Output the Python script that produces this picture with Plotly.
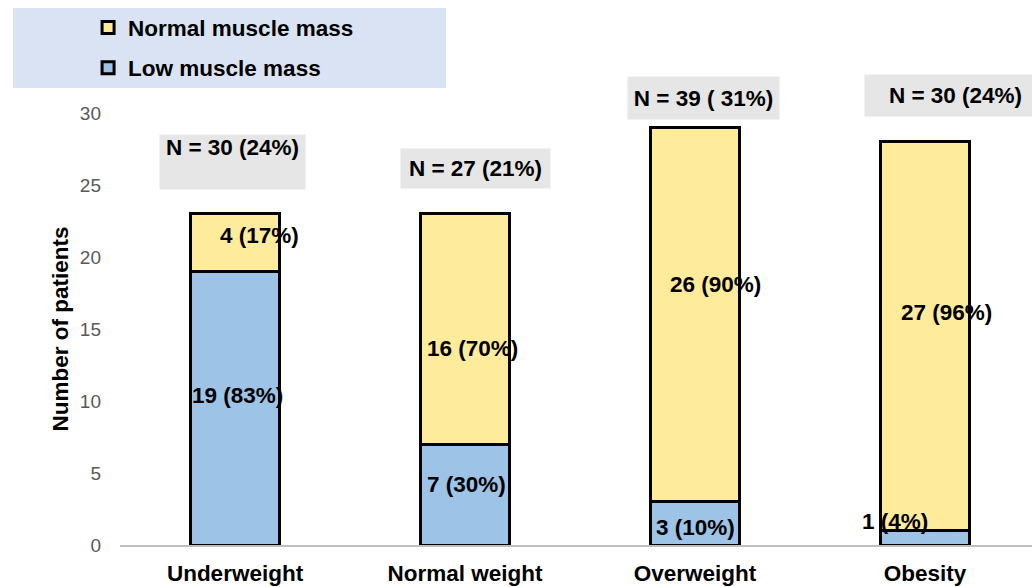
import plotly.graph_objects as go

# BMI categories and patient counts by muscle-mass status
categories = ["Underweight", "Normal weight", "Overweight", "Obesity"]
low_muscle = [19, 7, 3, 1]
normal_muscle = [4, 16, 26, 27]
group_n = [30, 27, 39, 30]
group_labels = ["N = 30 (24%)", "N = 27 (21%)", "N = 39 ( 31%)", "N = 30 (24%)"]

# Layout of text labels (pixel offsets from category centre, y in axis units)
low_label_dx = [2, 1, 0, -30]
low_label_y = [10.35, 4.17, 1.25, 1.6]
normal_label_dx = [24, 7, 20, 21]
normal_label_y = [21.46, 13.68, 18.06, 16.18]
n_box_dx = [-3, 10, 8, 30]
n_box_y = [26.6, 26.15, 31.04, 31.2]
n_box_w = [145, 149, 151, 181]
n_box_h = [54, 39, 42, 41]
n_box_valign = ["top", "middle", "middle", "middle"]

Y_MAX = 30
FONT = "Liberation Sans, Arial, sans-serif"
BOLD = dict(family=FONT, size=22.5, color="black", weight="bold")
BLUE = "#9DC3E6"
YELLOW = "#FFEB9C"


def pct_text(part, whole):
    return f"{part} ({round(100 * part / whole)}%)"


totals = [a + b for a, b in zip(low_muscle, normal_muscle)]

fig = go.Figure()
fig.add_trace(go.Bar(
    x=categories, y=low_muscle, name="Low muscle mass",
    marker=dict(color=BLUE, line=dict(color="black", width=3)),
    width=0.385, legendrank=2, legendgroup="low",
))
fig.add_trace(go.Bar(
    x=categories, y=normal_muscle, name="Normal muscle mass",
    marker=dict(color=YELLOW, line=dict(color="black", width=3)),
    width=0.385, legendrank=1, legendgroup="normal",
))

annotations = []
for i, cat in enumerate(categories):
    annotations.append(dict(
        x=cat, y=low_label_y[i], xshift=low_label_dx[i],
        text=pct_text(low_muscle[i], totals[i]), showarrow=False, font=BOLD,
    ))
    annotations.append(dict(
        x=cat, y=normal_label_y[i], xshift=normal_label_dx[i],
        text=pct_text(normal_muscle[i], totals[i]), showarrow=False, font=BOLD,
    ))
    # group size boxes may sit above the top of the axis, so place them in paper units
    annotations.append(dict(
        x=cat, xref="x", y=n_box_y[i] / Y_MAX, yref="paper", yanchor="middle",
        xanchor="center", xshift=n_box_dx[i],
        text=group_labels[i], showarrow=False,
        width=n_box_w[i], height=n_box_h[i], valign=n_box_valign[i],
        bgcolor="#E6E6E6", borderpad=0, font=BOLD,
    ))

fig.update_layout(
    width=1032, height=587,
    margin=dict(l=120, r=0, t=113, b=42),
    paper_bgcolor="white", plot_bgcolor="white",
    barmode="stack",
    showlegend=True,
    legend=dict(
        x=-0.035, y=1.247, xanchor="left", yanchor="top",
        bgcolor="rgba(0,0,0,0)", traceorder="grouped", tracegroupgap=8,
        font=BOLD,
    ),
    annotations=annotations,
    shapes=[dict(
        type="rect", xref="paper", yref="paper",
        x0=-0.1173, x1=0.3575, y0=1.058, y1=1.243,
        fillcolor="#DAE3F3", line=dict(width=0), layer="below",
    )],
    xaxis=dict(
        range=[-0.5, 3.465], showgrid=False,
        showline=True, linecolor="#BFBFBF", linewidth=1.5,
        ticks="", ticklabelstandoff=7, tickfont=BOLD,
    ),
    yaxis=dict(
        range=[0, Y_MAX], dtick=5, showgrid=False, showline=False,
        zeroline=False, ticks="", ticklabelstandoff=18,
        tickfont=dict(family=FONT, size=19, color="#595959"),
        title=dict(text="Number of patients", standoff=4, font=BOLD),
    ),
)

fig.write_html("out.html")
